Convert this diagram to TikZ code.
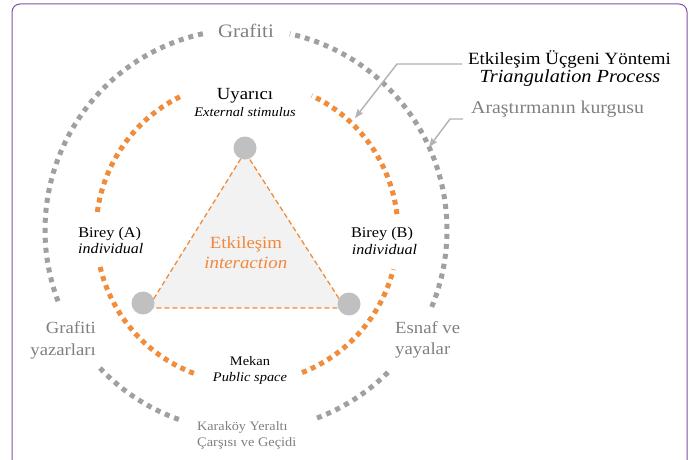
\documentclass[tikz,border=0pt]{standalone}
\usepackage{fontspec}
\setmainfont{Liberation Serif}[FakeStretch=1.1]
\usetikzlibrary{arrows.meta}
\definecolor{dgray}{RGB}{160,160,160}
\definecolor{tgray}{RGB}{128,128,128}
\definecolor{dorange}{RGB}{240,140,58}
\definecolor{torange}{RGB}{240,136,60}
\definecolor{dotgray}{RGB}{192,192,192}
\definecolor{trifill}{RGB}{242,242,242}
\definecolor{agray}{RGB}{178,178,178}
\definecolor{framepurple}{RGB}{130,80,165}
\newcommand\fsz[1]{\fontsize{#1}{#1}\selectfont}
\begin{document}
\begin{tikzpicture}[x=1pt,y=1pt,
  grayring/.style={draw=dgray, line width=5pt, dash pattern=on 5pt off 5pt},
  orangering/.style={draw=dorange, line width=5pt, dash pattern=on 5pt off 4.5pt},
  txt/.style={inner sep=0pt, anchor=base},
  dot/.style={circle, fill=dotgray, minimum size=23pt, inner sep=0pt},
  triedge/.style={draw=dorange, line width=1.3pt, dash pattern=on 5pt off 3pt},
  pointer/.style={draw=agray, line width=1.4pt, -{Stealth[length=9pt,width=7pt,inset=1.5pt]}}]
\useasboundingbox (0,0) rectangle (691,459);
\fill[white] (0,0) rectangle (691,459);
\draw[framepurple, line width=1pt, rounded corners=8pt] (12,-2) -- (12,455) -- (687,455) -- (687,-2);
% outer gray ring
\coordinate (G) at (246,229);
\draw[grayring] (G) ++(-22.5:201) arc[start angle=-22.5, end angle=77.4, radius=201];
\draw[grayring] (G) ++(102.4:201) arc[start angle=102.4, end angle=202, radius=201];
\draw[grayring] (G) ++(223.4:201) arc[start angle=223.4, end angle=251.6, radius=201];
\draw[grayring] (G) ++(290.7:201) arc[start angle=290.7, end angle=315.8, radius=201];
% orange ring
\coordinate (O) at (247,227);
\draw[orangering] (O) ++(6.8:151) arc[start angle=6.8, end angle=64.6, radius=151];
\draw[orangering] (O) ++(116.4:151) arc[start angle=116.4, end angle=173.5, radius=151];
\draw[orangering] (O) ++(193.4:151) arc[start angle=193.4, end angle=250.5, radius=151];
\draw[orangering] (O) ++(291.4:151) arc[start angle=291.4, end angle=345.7, radius=151];
% triangle
\coordinate (ptop) at (245,311);
\coordinate (pleft) at (143,156);
\coordinate (pright) at (349,155);
\coordinate (vtop) at (245,307);
\coordinate (vleft) at (148,151);
\coordinate (vright) at (345,151);
\fill[trifill] (vtop) -- (vleft) -- (vright) -- cycle;
\draw[triedge] (vtop) -- (vleft) -- (vright) -- cycle;
\node[dot] (dtop) at (ptop) {};
\node[dot] (dleft) at (pleft) {};
\node[dot] (dright) at (pright) {};
% texts
\node[txt, font=\fsz{19}, text=tgray] (grafiti) at (246,421) {Grafiti};
\node[txt, font=\fsz{17}] (uyarici) at (245,359.7) {Uyarıcı};
\node[txt, font={\fsz{13.1}\itshape}] (ext) at (245,343) {External stimulus};
\node[txt, font=\fsz{17.2}] (title1) at (569.5,394.7) {Etkileşim Üçgeni Yöntemi};
\node[txt, font={\fsz{18.5}\itshape}] (title2) at (570,376.3) {Triangulation Process};
\node[txt, anchor=base west, font=\fsz{18}, text=tgray] (kurgu) at (471,345.7) {Araştırmanın kurgusu};
\node[txt, font=\fsz{14.8}] (bireyA) at (109.7,221.7) {Birey (A)};
\node[txt, font={\fsz{14.6}\itshape}] (indA) at (110.8,205.7) {individual};
\node[txt, font=\fsz{14.8}] (bireyB) at (382,221.7) {Birey (B)};
\node[txt, font={\fsz{14.6}\itshape}] (indB) at (384.5,205) {individual};
\node[txt, font=\fsz{17.1}, text=torange] (etk) at (246,210.7) {Etkileşim};
\node[txt, font={\fsz{17.2}\itshape}, text=torange] (inter) at (245.8,190.7) {interaction};
\node[txt, font=\fsz{13.1}] (mekan) at (250,93.3) {Mekan};
\node[txt, font={\fsz{13.1}\itshape}] (public) at (250,77.3) {Public space};
\node[txt, anchor=base east, font=\fsz{17}, text=tgray] (grafl) at (96,125.7) {Grafiti};
\node[txt, anchor=base east, font=\fsz{17}, text=tgray] (yazar) at (96,104) {yazarları};
\node[txt, anchor=base west, font=\fsz{17}, text=tgray] (esnaf) at (395,125.7) {Esnaf ve};
\node[txt, anchor=base west, font=\fsz{17}, text=tgray] (yaya) at (395,105) {yayalar};
\node[txt, anchor=base west, font=\fsz{12.9}, text=tgray] (karakoy) at (197,29) {Karaköy Yeraltı};
\node[txt, anchor=base west, font=\fsz{13.1}, text=tgray] (carsi) at (197,13) {Çarşısı ve Geçidi};
% pointers
\coordinate (a1s) at (462,395);
\coordinate (a1m) at (397,395);
\coordinate (a1e) at (355,341);
\draw[pointer] (a1s) -- (a1m) -- (a1e);
\coordinate (a2s) at (463,340);
\coordinate (a2m) at (450,340);
\coordinate (a2e) at (429,312);
\draw[pointer] (a2s) -- (a2m) -- (a2e);
\end{tikzpicture}
\end{document}
